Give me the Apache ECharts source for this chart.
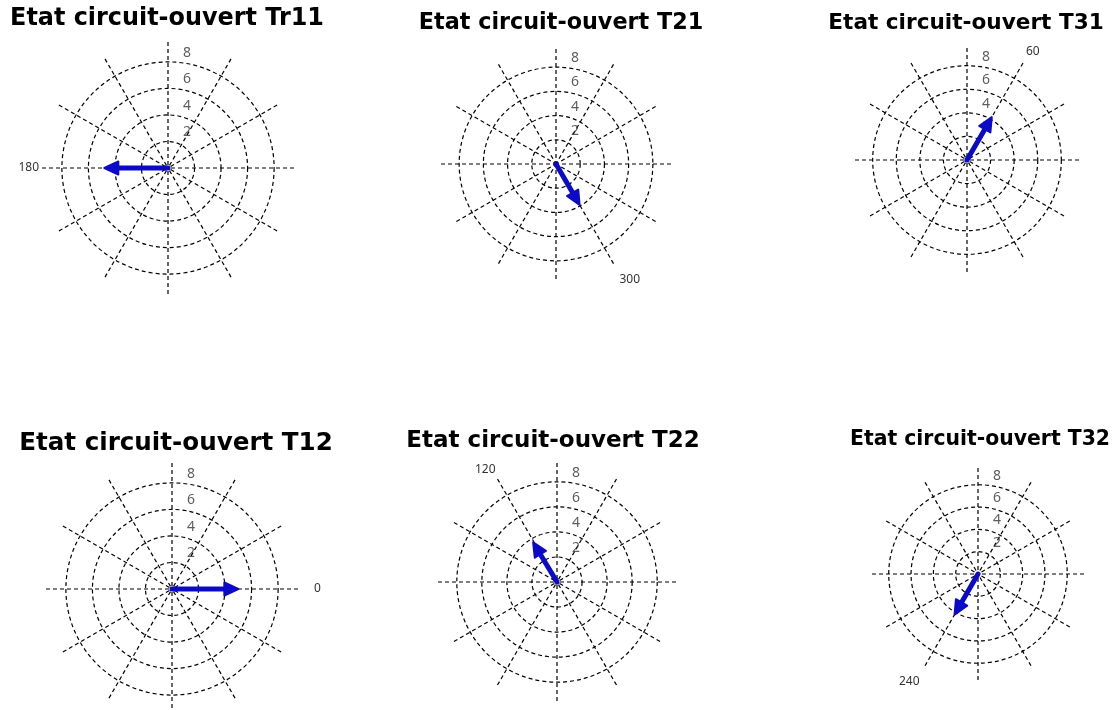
<!DOCTYPE html>
<html>
<head>
<meta charset="utf-8">
<title>Etat circuit-ouvert</title>
<script src="https://cdn.jsdelivr.net/npm/echarts@6/dist/echarts.min.js"></script>
<style>
  html, body { margin: 0; padding: 0; background: #fff; }
  #chart { width: 1116px; height: 710px; }
</style>
</head>
<body>
<div id="chart"></div>
<script>
// Open-circuit phasors, one compass plot per transformer winding
const titles = [
  'Etat circuit-ouvert Tr11', 'Etat circuit-ouvert T21', 'Etat circuit-ouvert T31',
  'Etat circuit-ouvert T12', 'Etat circuit-ouvert T22', 'Etat circuit-ouvert T32'
];
const magnitudes = [4.8, 3.9, 4.2, 5.0, 3.7, 4.2];
const angles = [180, 300, 60, 0, 121, 240];
const angleLabels = [180, 300, 60, 0, 120, 240];
const radiusTicks = [2, 4, 6, 8];
const radiusMax = 9.5;      // spokes run a little past the last ring
const angleStep = 30;

// panel geometry: centre, spoke length, angle label margin, title placement and size
const panels = [
  { cx: 168, cy: 168, r: 126, lm: 3,  tx: 167, ty: 7,   fs: 23.9 },
  { cx: 556, cy: 164, r: 115, lm: 12, tx: 561, ty: 12,  fs: 22.3 },
  { cx: 967, cy: 160, r: 112, lm: 6,  tx: 966, ty: 12,  fs: 21.6 },
  { cx: 172, cy: 589, r: 126, lm: 16, tx: 176, ty: 431, fs: 24.6 },
  { cx: 557, cy: 582, r: 119, lm: 4,  tx: 553, ty: 430, fs: 23.0 },
  { cx: 978, cy: 574, r: 106, lm: 11, tx: 980, ty: 430, fs: 20.4 }
];

const BLUE = '#0a0ac8';
const GRID = '#000';
const DASH = [4, 3];

// rings are drawn at 2..8 only; the 0 and outer-extent ticks stay invisible
const ringColors = ['rgba(0,0,0,0)', GRID, GRID, GRID, GRID, 'rgba(0,0,0,0)'];

function renderArrow(params, api) {
  const r = api.value(0), a = api.value(1);
  const p0 = api.coord([0, a]);
  const p1 = api.coord([r, a]);
  const dx = p1[0] - p0[0], dy = p1[1] - p0[1];
  const len = Math.hypot(dx, dy) || 1;
  const ux = dx / len, uy = dy / len;
  const nx = -uy, ny = ux;
  const headLen = 14, headHalf = 6.5;
  const bx = p1[0] - ux * headLen, by = p1[1] - uy * headLen;
  return {
    type: 'group',
    children: [
      { type: 'line', shape: { x1: p0[0], y1: p0[1], x2: bx + ux * 3, y2: by + uy * 3 },
        style: { stroke: BLUE, lineWidth: 5, lineCap: 'round' } },
      { type: 'polygon',
        shape: { points: [[p1[0], p1[1]], [bx + nx * headHalf, by + ny * headHalf], [bx - nx * headHalf, by - ny * headHalf]] },
        style: { fill: BLUE, stroke: BLUE, lineWidth: 2, lineJoin: 'round' } }
    ]
  };
}

const option = {
  backgroundColor: '#fff',
  animation: false,
  title: [], polar: [], angleAxis: [], radiusAxis: [], series: []
};

panels.forEach((p, i) => {
  option.title.push({
    text: titles[i], left: p.tx, top: p.ty, textAlign: 'center', padding: 0,
    textStyle: { fontFamily: 'DejaVu Sans', fontWeight: 'bold', fontSize: p.fs, color: '#000' }
  });
  option.polar.push({ center: [p.cx, p.cy], radius: p.r });
  option.angleAxis.push({
    type: 'value', polarIndex: i, min: 0, max: 360, interval: angleStep,
    startAngle: 0, clockwise: false,
    axisLine: { show: false }, axisTick: { show: false },
    axisLabel: {
      show: true, margin: p.lm, color: '#333', fontSize: 12, fontFamily: 'Noto Sans',
      formatter: v => (v === angleLabels[i] ? String(v) : '')
    },
    splitLine: { show: true, lineStyle: { color: GRID, type: DASH, width: 1.2 } }
  });
  option.radiusAxis.push({
    type: 'value', polarIndex: i, min: 0, max: radiusMax, interval: 2,
    axisLine: { show: false }, axisTick: { show: false }, axisLabel: { show: false },
    splitLine: { show: true, lineStyle: { color: ringColors, type: DASH, width: 1.2 } }
  });
  // ring values written just above each ring, beside the vertical spoke
  option.series.push({
    type: 'scatter', coordinateSystem: 'polar', polarIndex: i, silent: true,
    symbolSize: 0, z: 3,
    data: radiusTicks.map(t => [t, 90]),
    label: {
      show: true, position: 'inside', offset: [19, -9],
      color: '#333', fontSize: 14, fontFamily: 'Noto Sans',
      formatter: prm => String(prm.value[0])
    }
  });
  option.series.push({
    type: 'custom', coordinateSystem: 'polar', polarIndex: i, silent: true, z: 5,
    data: [[magnitudes[i], angles[i]]],
    renderItem: renderArrow
  });
});

const chart = echarts.init(document.getElementById('chart'), null, { renderer: 'canvas' });
chart.setOption(option);
</script>
</body>
</html>
